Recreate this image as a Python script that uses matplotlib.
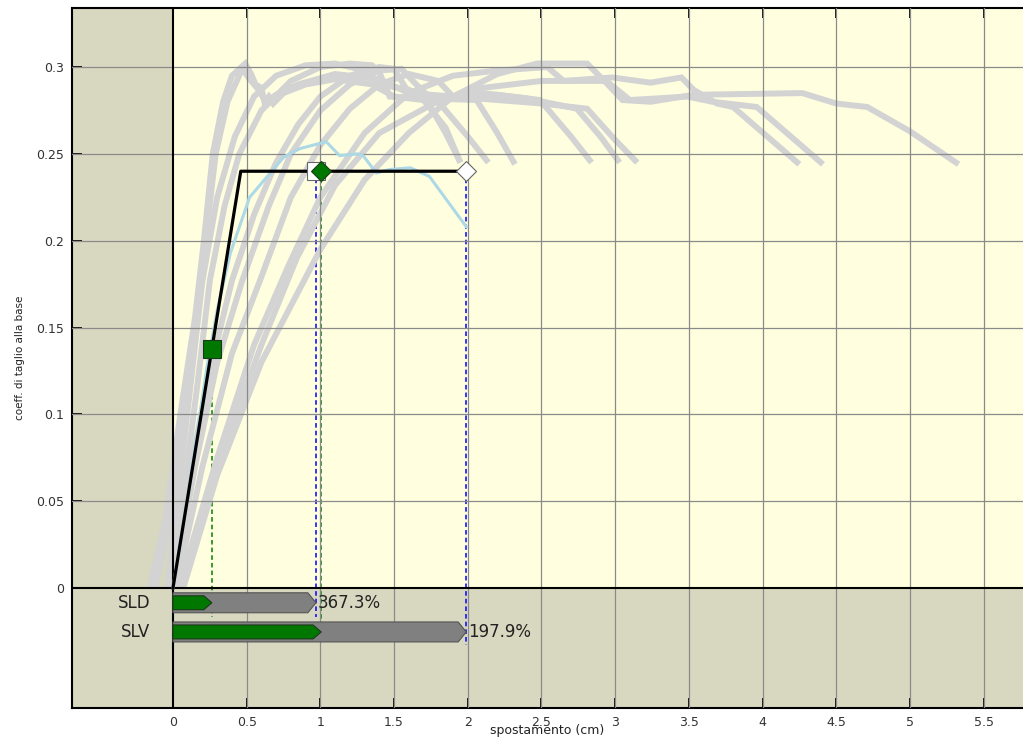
import numpy as np
import matplotlib
matplotlib.use("Agg")
import matplotlib.pyplot as plt
from matplotlib.patches import Rectangle

# Curve di capacità (pushover) delle singole analisi, spostamento in cm
po01_x = [-0.16, -0.05, 0.05, 0.15, 0.21, 0.27, 0.34, 0.40, 0.49, 0.53, 0.56, 0.60, 0.62, 0.65, 0.68, 0.75, 0.90, 1.10, 1.35, 1.50, 1.70, 1.85, 1.95]
po01_y = [0.0, 0.04, 0.10, 0.156, 0.20, 0.25, 0.28, 0.295, 0.302, 0.296, 0.29, 0.288, 0.28, 0.283, 0.279, 0.285, 0.29, 0.293, 0.29, 0.283, 0.281, 0.265, 0.245]
po02_x = [-0.12, -0.02, 0.07, 0.16, 0.22, 0.29, 0.37, 0.47, 0.52, 0.58, 0.63, 0.70, 0.85, 1.10, 1.40, 1.60, 1.81, 2.00, 2.14]
po02_y = [0.0, 0.04, 0.10, 0.155, 0.20, 0.25, 0.28, 0.299, 0.293, 0.287, 0.28, 0.284, 0.29, 0.296, 0.293, 0.285, 0.279, 0.26, 0.245]
po03_x = [0.0, 0.08, 0.17, 0.25, 0.35, 0.45, 0.60, 0.80, 1.00, 1.20, 1.35, 1.40, 1.47, 1.70, 2.06, 2.20, 2.32]
po03_y = [0.0, 0.06, 0.12, 0.177, 0.22, 0.25, 0.275, 0.292, 0.30, 0.302, 0.301, 0.297, 0.283, 0.282, 0.281, 0.262, 0.244]
po04_x = [-0.02, 0.10, 0.25, 0.40, 0.55, 0.70, 0.85, 1.00, 1.20, 1.40, 1.50, 1.60, 1.90, 2.20, 2.49, 2.70, 2.84]
po04_y = [0.0, 0.06, 0.125, 0.177, 0.215, 0.245, 0.267, 0.283, 0.295, 0.30, 0.299, 0.285, 0.283, 0.284, 0.281, 0.26, 0.245]
po05_x = [0.0, 0.15, 0.30, 0.47, 0.65, 0.80, 1.00, 1.20, 1.40, 1.55, 1.65, 1.75, 2.10, 2.40, 2.74, 2.90, 3.03]
po05_y = [0.0, 0.07, 0.13, 0.177, 0.22, 0.25, 0.275, 0.29, 0.298, 0.299, 0.29, 0.282, 0.285, 0.282, 0.276, 0.26, 0.245]
po06_x = [0.02, 0.20, 0.40, 0.59, 0.80, 1.00, 1.20, 1.40, 1.60, 1.80, 1.90, 2.20, 2.50, 2.81, 3.00, 3.15]
po06_y = [0.0, 0.07, 0.135, 0.177, 0.225, 0.255, 0.276, 0.29, 0.296, 0.292, 0.283, 0.281, 0.279, 0.276, 0.258, 0.245]
po07_x = [0.04, 0.30, 0.55, 0.78, 1.00, 1.30, 1.60, 1.90, 2.20, 2.54, 2.65, 2.98, 3.24, 3.45, 3.53, 3.69, 3.80, 4.25]
po07_y = [0.0, 0.075, 0.14, 0.185, 0.225, 0.262, 0.285, 0.295, 0.298, 0.30, 0.292, 0.294, 0.291, 0.294, 0.287, 0.279, 0.277, 0.244]
po08_x = [0.06, 0.30, 0.60, 0.84, 1.10, 1.40, 1.79, 2.10, 2.50, 2.94, 3.10, 3.49, 3.66, 3.96, 4.41]
po08_y = [0.0, 0.07, 0.14, 0.19, 0.232, 0.262, 0.28, 0.288, 0.292, 0.292, 0.281, 0.283, 0.28, 0.277, 0.244]
po09_x = [0.07, 0.30, 0.60, 1.00, 1.30, 1.60, 1.90, 2.20, 2.47, 2.81, 2.95, 3.05, 3.24, 3.53, 4.27, 4.50, 4.71, 5.00, 5.33]
po09_y = [0.0, 0.065, 0.13, 0.195, 0.235, 0.262, 0.283, 0.296, 0.302, 0.302, 0.29, 0.281, 0.28, 0.284, 0.285, 0.279, 0.277, 0.263, 0.244]
po10_x = [-0.04, 0.05, 0.13, 0.20, 0.30, 0.42, 0.55, 0.70, 0.90, 1.10, 1.30, 1.40, 1.60, 1.72, 1.85, 1.95]
po10_y = [0.0, 0.065, 0.125, 0.177, 0.225, 0.26, 0.283, 0.295, 0.301, 0.302, 0.298, 0.29, 0.287, 0.281, 0.262, 0.245]

# Curva dell'analisi selezionata
sel_x = [0.0, 0.10, 0.23, 0.30, 0.39, 0.52, 0.75, 0.86, 1.04, 1.13, 1.25, 1.29, 1.38, 1.47, 1.61, 1.74, 1.99]
sel_y = [0.0, 0.053, 0.127, 0.16, 0.193, 0.225, 0.248, 0.253, 0.257, 0.249, 0.25, 0.249, 0.239, 0.241, 0.242, 0.237, 0.208]

# Bilineare equivalente
bil_x = [0.0, 0.46, 1.99]
bil_y = [0.0, 0.24, 0.24]

# Verifiche: stato limite, spostamento di capacità, rapporto capacità/domanda
stati = ["SLD", "SLV"]
capacita = [0.97, 1.99]
rapporto = [3.673, 1.979]
domanda = [c / r for c, r in zip(capacita, rapporto)]

KHAKI = "#d8d8c0"
GIALLO = "#ffffe0"
GRIGIO = "#d3d3d3"

fig = plt.figure(figsize=(10.23, 7.39), dpi=100)
ax = fig.add_axes([72 / 1023, 31 / 739, 951 / 1023, 700 / 739])
ax.set_xlim(-0.685, 5.767)
ax.set_ylim(-0.0691, 0.334)
ax.set_facecolor(KHAKI)
ax.add_patch(Rectangle((0, 0), 10, 1, facecolor=GIALLO, edgecolor="none", zorder=0))

# linee tratteggiate verticali (sotto le curve grigie)
y_sld = bil_y[1] * domanda[0] / bil_x[1]
ax.plot([domanda[0]] * 2, [y_sld, -0.0167], ls=(0, (3, 2)), color="green", lw=1.1, zorder=1)
ax.plot([capacita[0]] * 2, [bil_y[1], -0.0167], ls=(0, (3, 2)), color="blue", lw=1.1, zorder=1)
ax.plot([domanda[1]] * 2, [bil_y[1], -0.032], ls=(0, (3, 2)), color="green", lw=1.1, zorder=1)
ax.plot([capacita[1]] * 2, [bil_y[1], -0.033], ls=(0, (3, 2)), color="blue", lw=1.1, zorder=1)

curve = [(po01_x, po01_y), (po02_x, po02_y), (po03_x, po03_y), (po04_x, po04_y), (po05_x, po05_y),
         (po06_x, po06_y), (po07_x, po07_y), (po08_x, po08_y), (po09_x, po09_y), (po10_x, po10_y)]
for cx, cy in curve:
    ax.plot(cx, cy, color=GRIGIO, lw=4.3, solid_capstyle="butt", solid_joinstyle="miter", zorder=2)

# griglia
for gx in np.arange(0.5, 5.75, 0.5):
    ax.axvline(gx, color="#8a8a8a", lw=0.9, zorder=3)
for gy in np.arange(0.05, 0.33, 0.05):
    ax.axhline(gy, color="#8a8a8a", lw=0.9, zorder=3)
ax.axvline(0, color="black", lw=1.5, zorder=3)
ax.axhline(0, color="black", lw=1.5, zorder=3)

ax.plot(sel_x, sel_y, color="#add8e6", lw=2.2, zorder=4)
ax.plot(bil_x, bil_y, color="black", lw=2.3, zorder=5)

# barre delle verifiche
righe_y = [-0.0085, -0.0253]
h_cap, h_dom, punta = 0.0115, 0.0080, 0.055
for yc, cap, dom in zip(righe_y, capacita, domanda):
    for val, h, col, ec in [(cap, h_cap, "#808080", "#555555"), (dom, h_dom, "#007800", "#1a3a1a")]:
        px = [0, val - punta, val, val - punta, 0]
        py = [yc + h / 2, yc + h / 2, yc, yc - h / 2, yc - h / 2]
        ax.fill(px, py, facecolor=col, edgecolor=ec, lw=0.8, zorder=6)
for nome, yc, cap, r in zip(stati, righe_y, capacita, rapporto):
    ax.text(-0.155, yc, nome, ha="right", va="center", fontsize=12, color="#222222", zorder=7)
    ax.text(cap + 0.01, yc, f"{r * 100:.1f}%", ha="left", va="center", fontsize=12, color="#222222", zorder=7)

# punti notevoli sulla bilineare
ax.plot(domanda[0], y_sld, marker="s", ms=12.5, mfc="#007800", mec="#1a3a1a", mew=0.8, zorder=8)
ax.plot(capacita[0], bil_y[1], marker="s", ms=12.5, mfc="white", mec="#666666", mew=0.8, zorder=8)
ax.plot(domanda[1], bil_y[1], marker="D", ms=10, mfc="#007800", mec="#1a3a1a", mew=0.8, zorder=9)
ax.plot(capacita[1], bil_y[1], marker="D", ms=10, mfc="white", mec="#666666", mew=0.8, zorder=9)

ax.set_xticks(np.arange(0, 5.75, 0.5))
ax.set_xticklabels(["0", "0.5", "1", "1.5", "2", "2.5", "3", "3.5", "4", "4.5", "5", "5.5"])
ax.set_yticks(np.arange(0, 0.33, 0.05))
ax.set_yticklabels(["0", "0.05", "0.1", "0.15", "0.2", "0.25", "0.3"])
ax.tick_params(direction="in", length=7, width=1.3, top=True, right=False, labelsize=9,
               labelcolor="#333333", pad=6)
for s in ax.spines.values():
    s.set_linewidth(1.5)
ax.spines["right"].set_visible(False)
ax.set_xlabel("spostamento (cm)", fontsize=9, color="#222222", labelpad=-4)
ax.set_ylabel("coeff. di taglio alla base", fontsize=7.5, color="#222222", labelpad=8)

fig.savefig("out.png", dpi=100)
